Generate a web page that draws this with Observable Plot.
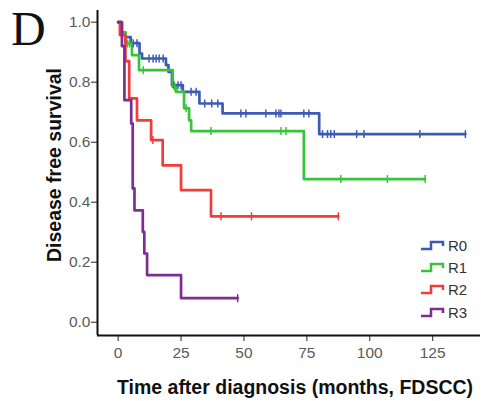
<!DOCTYPE html>
<html><head><meta charset="utf-8">
<script src="https://cdn.jsdelivr.net/npm/d3@7"></script>
<script src="https://cdn.jsdelivr.net/npm/@observablehq/plot@0.6"></script>
<style>
html,body{margin:0;padding:0;background:#fff;}
#wrap{position:relative;width:481px;height:401px;font-family:"Liberation Sans",Arial,sans-serif;}
#wrap svg{display:block;}
#panel{position:absolute;left:11px;top:5px;font-family:"Liberation Serif","Times New Roman",serif;font-size:48px;line-height:1;color:#111;}
#legend{position:absolute;left:421px;top:234px;}
.row{display:flex;align-items:center;height:22.4px;font-size:15px;color:#333;}
.row svg{margin-right:1px;}
</style></head>
<body><div id="wrap"><div id="panel">D</div><div id="legend"></div></div>
<script>
// ---- data ----
const groups = ["R0", "R1", "R2", "R3"];
const colors = ["#3c5bb4", "#38c43a", "#f23b3b", "#7e2d91"];

const r0Time = [0, 1, 3, 5, 8.5, 9.5, 19, 20, 21.4, 25.7, 32.3, 41.5, 79.9];
const r0Surv = [1.0, 0.965, 0.95, 0.93, 0.895, 0.879, 0.857, 0.834, 0.79, 0.768, 0.729, 0.696, 0.627];
const r0End = 138;
const r0Censor = [6, 7.5, 12.3, 13.9, 15.1, 16.3, 17.9, 22.2, 23.8, 25, 29, 31, 34.4, 37.2, 39.6,
  48.8, 50.8, 58.7, 62.7, 63.9, 64.7, 73.8, 75.8, 81.2, 83.2, 84.5, 85.9, 94.8, 97.7, 119.9, 138];

const r1Time = [0, 1.5, 3, 5.5, 8.3, 21.7, 23, 26.2, 28.2, 29, 73.8];
const r1Surv = [1.0, 0.963, 0.929, 0.89, 0.84, 0.784, 0.768, 0.713, 0.673, 0.637, 0.477];
const r1End = 122;
const r1Censor = [3.8, 4.6, 10, 22.5, 27, 36.9, 64.7, 66.7, 88.5, 107, 122];

const r2Time = [0, 0.7, 2.9, 4.4, 7.5, 13.1, 17.7, 25, 36.9];
const r2Surv = [1.0, 0.957, 0.87, 0.746, 0.673, 0.607, 0.523, 0.44, 0.353];
const r2End = 87.5;
const r2Censor = [13.8, 40.9, 53, 87.5];

const r3Time = [0, 1.5, 2.5, 5.2, 5.8, 6.5, 9.8, 10.4, 11.5, 25];
const r3Surv = [1.0, 0.92, 0.74, 0.662, 0.446, 0.373, 0.301, 0.229, 0.157, 0.08];
const r3End = 47.5;
const r3Censor = [47.5];

const xTicks = [0, 25, 50, 75, 100, 125];
const yTicks = [0, 0.2, 0.4, 0.6, 0.8, 1.0];
const xLabel = "Time after diagnosis (months, FDSCC)";
const yLabel = "Disease free survival";

// ---- build tables ----
const series = [
  {g: "R0", time: r0Time, surv: r0Surv, end: r0End, censor: r0Censor},
  {g: "R1", time: r1Time, surv: r1Surv, end: r1End, censor: r1Censor},
  {g: "R2", time: r2Time, surv: r2Surv, end: r2End, censor: r2Censor},
  {g: "R3", time: r3Time, surv: r3Surv, end: r3End, censor: r3Censor}
];
const steps = [], cens = [];
for (const s of series) {
  s.time.forEach((t, i) => steps.push({g: s.g, t, s: s.surv[i]}));
  steps.push({g: s.g, t: s.end, s: s.surv[s.surv.length - 1]});
  for (const c of s.censor) {
    let v = s.surv[0];
    s.time.forEach((t, i) => { if (t <= c) v = s.surv[i]; });
    cens.push({g: s.g, t: c, s: v});
  }
}

const xDomain = [-8.2, 144];
const yDomain = [-0.0443, 1.039];
const tickSymbol = {draw(ctx, size) { const h = Math.sqrt(size / Math.PI); ctx.moveTo(0, -h); ctx.lineTo(0, h); }};

const chart = Plot.plot({
  width: 481, height: 401,
  marginLeft: 97, marginRight: 1, marginTop: 10, marginBottom: 66,
  x: {domain: xDomain},
  y: {domain: yDomain},
  color: {domain: groups, range: colors},
  style: {fontFamily: "'Liberation Sans', Arial, sans-serif", fontSize: "15px", background: "white", color: "#555"},
  marks: [
    Plot.axisX({ticks: xTicks, tickSize: 6, tickPadding: 5, tickFormat: d => String(d), label: null, stroke: "#222", fill: "#5a5a5a", fontSize: 15.5}),
    Plot.axisY({ticks: yTicks, tickSize: 6, tickPadding: 1, tickFormat: d3.format(".1f"), label: null, stroke: "#222", fill: "#5a5a5a", fontSize: 15.5}),
    Plot.ruleX([xDomain[0]], {stroke: "#111", strokeWidth: 2}),
    Plot.ruleY([yDomain[0]], {stroke: "#111", strokeWidth: 2}),
    Plot.line(steps, {x: "t", y: "s", z: "g", stroke: "g", curve: "step-after", strokeWidth: 2.7}),
    Plot.dot(cens, {x: "t", y: "s", stroke: "g", fill: "none", symbol: tickSymbol, r: 4, strokeWidth: 1.5}),
    Plot.text([xLabel], {frameAnchor: "bottom", lineAnchor: "middle", textAnchor: "middle", dx: 6, dy: 52, fontWeight: "bold", fontSize: 19.5, fill: "#111"}),
    Plot.text([yLabel], {frameAnchor: "left", lineAnchor: "middle", textAnchor: "middle", rotate: -90, dx: -43, dy: -8, fontWeight: "bold", fontSize: 19.5, fill: "#111"})
  ]
});
const wrap = document.getElementById("wrap");
wrap.insertBefore(chart, wrap.firstChild);

// legend
const leg = d3.select("#legend");
groups.forEach((g, i) => {
  const row = leg.append("div").attr("class", "row");
  const s = row.append("svg").attr("width", 26).attr("height", 11);
  s.append("path").attr("d", "M0,9 H10 V2 H22 V6").attr("fill", "none").attr("stroke", colors[i]).attr("stroke-width", 2.5);
  row.append("span").text(g);
});
</script>
</body></html>
